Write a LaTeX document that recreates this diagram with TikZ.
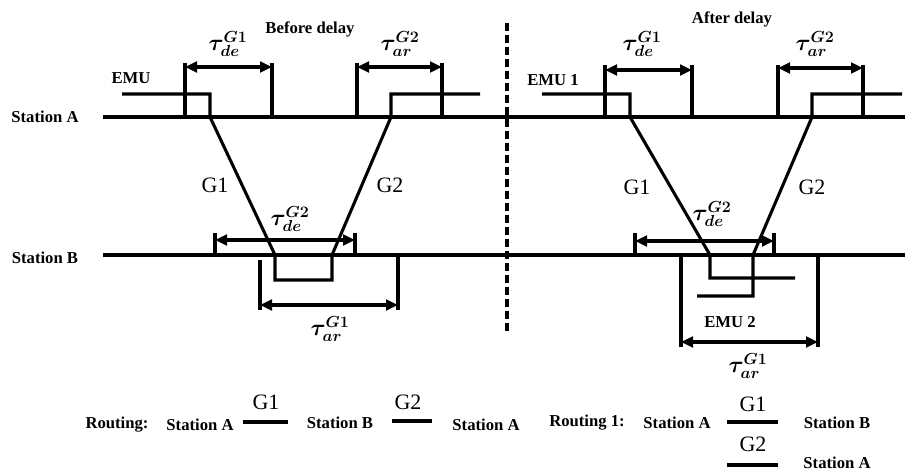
\documentclass[tikz,border=0pt]{standalone}
\usepackage{fontspec}
\setmainfont{Liberation Serif}
\usepackage{bm}
\usetikzlibrary{arrows.meta,calc}
\tikzset{
  track/.style={line width=2.3pt},
  emupath/.style={line width=2.3pt, line join=miter},
  tick/.style={line width=2.3pt},
  dimarrow/.style={{Triangle[length=9pt,width=8pt]}-{Triangle[length=9pt,width=8pt]}, line width=2.3pt},
  routebar/.style={line width=3pt},
  sta/.style={font=\fontsize{12.5}{14}\selectfont\bfseries, inner sep=1pt},
  glbl/.style={font=\fontsize{16.5}{18}\selectfont, inner sep=1pt},
  tau/.style={font=\fontsize{17}{19}\selectfont, inner sep=0pt}
}

\begin{document}
\begin{tikzpicture}[x=0.75pt, y=-0.75pt]
\useasboundingbox (0,0) rectangle (905,472);
% stations
\node[sta] (stA) at (45,117) {Station A};
\node[sta] (stB) at (45,258) {Station B};
\coordinate (Aw) at (103,117); \coordinate (Ae) at (905,117);
\coordinate (Bw) at (103,255); \coordinate (Be) at (905,255);
\draw[track] (Aw) -- (Ae);
\draw[track] (Bw) -- (Be);
\coordinate (divT) at (507,23); \coordinate (divB) at (507,333);
\draw[line width=2.3pt, dash pattern=on 6pt off 3pt] (divT) -- (divB);

% before delay
\node[sta] (hBefore) at (310,29) {Before delay};
\node[sta] (hEMU) at (131,78) {EMU};
\coordinate (u0) at (122,94); \coordinate (u1) at (210,94);
\coordinate (u2) at (210,117); \coordinate (u3) at (275,255);
\coordinate (u4) at (275,280); \coordinate (u5) at (332,280);
\coordinate (u6) at (332,255); \coordinate (u7) at (391,117);
\coordinate (u8) at (391,94); \coordinate (u9) at (480,94);
\draw[emupath] (u0) -- (u1) -- (u2) -- (u3) -- (u4) -- (u5) -- (u6) -- (u7) -- (u8) -- (u9);
\node[glbl] (g1L) at (215,185) {G1};
\node[glbl] (g2L) at (390,185) {G2};
% tau de G1
\coordinate (b1l) at (185,63); \coordinate (b1r) at (272,63);
\draw[tick] (b1l) -- (b1l |- Aw);
\draw[tick] (b1r) -- (b1r |- Aw);
\draw[dimarrow] ($(b1l)+(0,4)$) -- ($(b1r)+(0,4)$);
\node[tau] (t1) at (228,44) {$\bm{\tau^{G1}_{de}}$};
% tau ar G2
\coordinate (b2l) at (357,63); \coordinate (b2r) at (442,63);
\draw[tick] (b2l) -- (b2l |- Aw);
\draw[tick] (b2r) -- (b2r |- Aw);
\draw[dimarrow] ($(b2l)+(0,4)$) -- ($(b2r)+(0,4)$);
\node[tau] (t2) at (400,44) {$\bm{\tau^{G2}_{ar}}$};
% tau de G2
\coordinate (b3l) at (215,233); \coordinate (b3r) at (355,233);
\draw[tick] (b3l) -- (b3l |- Bw);
\draw[tick] (b3r) -- (b3r |- Bw);
\draw[dimarrow] ($(b3l)+(0,7)$) -- ($(b3r)+(0,7)$);
\node[tau] (t3) at (290,219) {$\bm{\tau^{G2}_{de}}$};
% tau ar G1
\coordinate (b4l) at (260,310); \coordinate (b4r) at (398,310);
\draw[tick] (b4l) -- ++(0,-50);
\draw[tick] (b4r) -- (b4r |- Bw);
\draw[dimarrow] ($(b4l)+(0,-5)$) -- ($(b4r)+(0,-5)$);
\node[tau] (t4) at (330,329) {$\bm{\tau^{G1}_{ar}}$};

% after delay
\node[sta] (hAfter) at (732,19) {After delay};
\node[sta] (hEMU1) at (553,80) {EMU 1};
\node[sta] (hEMU2) at (730,322) {EMU 2};
\coordinate (v0) at (542,94); \coordinate (v1) at (630,94);
\coordinate (v2) at (630,117); \coordinate (v3) at (710,255);
\coordinate (v4) at (710,278); \coordinate (v5) at (795,278);
\draw[emupath] (v0) -- (v1) -- (v2) -- (v3) -- (v4) -- (v5);
\coordinate (w0) at (697,296); \coordinate (w1) at (753,296);
\coordinate (w2) at (753,255); \coordinate (w3) at (812,117);
\coordinate (w4) at (812,94); \coordinate (w5) at (902,94);
\draw[emupath] (w0) -- (w1) -- (w2) -- (w3) -- (w4) -- (w5);
\node[glbl] (g1R) at (637,187) {G1};
\node[glbl] (g2R) at (812,187) {G2};
% tau de G1
\coordinate (c1l) at (605,65); \coordinate (c1r) at (692,65);
\draw[tick] (c1l) -- ($(c1l |- Aw)+(0,2)$);
\draw[tick] (c1r) -- (c1r |- Aw);
\draw[dimarrow] ($(c1l)+(0,5)$) -- ($(c1r)+(0,5)$);
\node[tau] (s1) at (642,44) {$\bm{\tau^{G1}_{de}}$};
% tau ar G2
\coordinate (c2l) at (778,65); \coordinate (c2r) at (863,65);
\draw[tick] (c2l) -- (c2l |- Aw);
\draw[tick] (c2r) -- (c2r |- Aw);
\draw[dimarrow] ($(c2l)+(0,3)$) -- ($(c2r)+(0,3)$);
\node[tau] (s2) at (815,44) {$\bm{\tau^{G2}_{ar}}$};
% tau de G2
\coordinate (c3l) at (635,233); \coordinate (c3r) at (774,233);
\draw[tick] (c3l) -- ++(0,24);
\draw[tick] (c3r) -- ++(0,24);
\draw[dimarrow] ($(c3l)+(0,8)$) -- ($(c3r)+(0,8)$);
\node[tau] (s3) at (712,214) {$\bm{\tau^{G2}_{de}}$};
% tau ar G1
\coordinate (c4l) at (681,347); \coordinate (c4r) at (818,347);
\draw[tick] (c4l) -- ++(0,-90);
\draw[tick] (c4r) -- (c4r |- Bw);
\draw[dimarrow] ($(c4l)+(0,-5)$) -- ($(c4r)+(0,-5)$);
\node[tau] (s4) at (748,366) {$\bm{\tau^{G1}_{ar}}$};

% routings
\node[sta] (r0) at (117,425) {Routing:};
\node[sta] (r0a) at (200,425) {Station A};
\node[sta] (r0b) at (340,423) {Station B};
\node[sta] (r0c) at (486,425) {Station A};
\coordinate (q1s) at (243,422); \coordinate (q1e) at (288,422);
\coordinate (q2s) at (392,421); \coordinate (q2e) at (432,421);
\draw[routebar] (q1s) -- (q1e);
\draw[routebar] (q2s) -- (q2e);
\node[glbl] (q1) at (266,402) {G1};
\node[glbl] (q2) at (408,402) {G2};
\node[sta] (r1) at (587,423) {Routing 1:};
\node[sta] (r1a) at (677,423) {Station A};
\node[sta] (r1b) at (837,423) {Station B};
\node[sta] (r1c) at (837,463) {Station A};
\coordinate (q3s) at (727,422); \coordinate (q3e) at (778,422);
\coordinate (q4s) at (727,465); \coordinate (q4e) at (778,465);
\draw[routebar] (q3s) -- (q3e);
\draw[routebar] (q4s) -- (q4e);
\node[glbl] (q3) at (753,404) {G1};
\node[glbl] (q4) at (753,444) {G2};
\end{tikzpicture}
\end{document}
